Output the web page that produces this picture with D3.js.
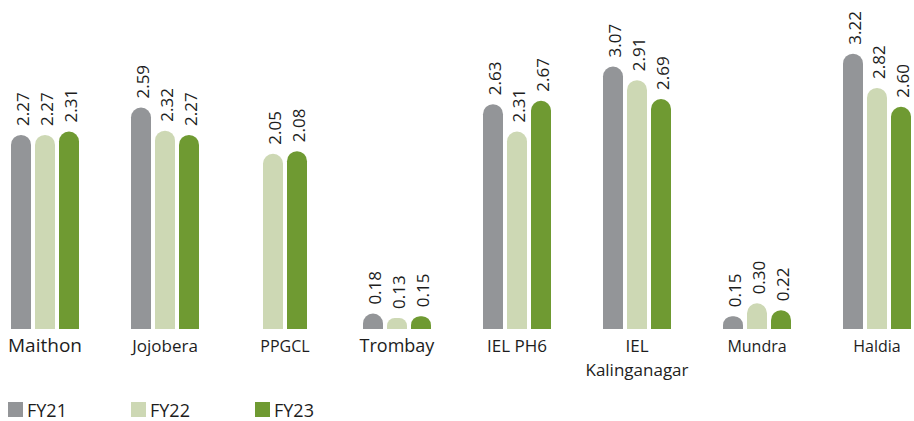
<!DOCTYPE html>
<html>
<head>
<meta charset="utf-8">
<script src="https://cdn.jsdelivr.net/npm/d3@7"></script>
<style>
  html, body { margin: 0; padding: 0; background: #fff; }
  svg { display: block; font-family: "Open Sans", "Noto Sans", sans-serif; }
</style>
</head>
<body>
<svg id="chart" width="914" height="421"></svg>
<script>
// Plant names (a "\n" splits a label over two lines)
const categories = ["Maithon", "Jojobera", "PPGCL", "Trombay", "IEL PH6", "IEL\nKalinganagar", "Mundra", "Haldia"];
// Per-year values; null where the plant has no figure
const fy21 = [2.27, 2.59, null, 0.18, 2.63, 3.07, 0.15, 3.22];
const fy22 = [2.27, 2.32, 2.05, 0.13, 2.31, 2.91, 0.30, 2.82];
const fy23 = [2.31, 2.27, 2.08, 0.15, 2.67, 2.69, 0.22, 2.60];
const seriesNames = ["FY21", "FY22", "FY23"];
const seriesColors = ["#939598", "#cdd8b4", "#6f9a32"];
const seriesValues = [fy21, fy22, fy23];
// Type size of each plant name
const labelSizes = [19, 17, 16, 18, 17, 17, 16, 16];

const svg = d3.select("#chart");
const baseY = 329;
// The first three plants sit slightly further right than the even grid
const leadShift = 8, leadCount = 3;

const x0 = d3.scaleBand()
  .domain(categories)
  .range([3, 911])
  .paddingInner(52 / 120)
  .paddingOuter(0);
const groupX = (cat, i) => x0(cat) + (i < leadCount ? leadShift : 0);

const y = d3.scaleLinear().domain([0, 3.5]).range([baseY, baseY - 3.5 * 85.5]);

function topRoundedBar(x, yTop, w, h) {
  const r = Math.min(w / 2, h * 0.7);
  return `M${x},${baseY}V${yTop + r}` +
    `A${r},${r} 0 0 1 ${x + r},${yTop}` +
    `H${x + w - r}` +
    `A${r},${r} 0 0 1 ${x + w},${yTop + r}` +
    `V${baseY}Z`;
}

categories.forEach((cat, i) => {
  const present = seriesNames.map((s, k) => ({ s, k, v: seriesValues[k][i] }))
    .filter(d => d.v != null);
  const slot = 24, gap = 4;
  const width = present.length * slot - gap;
  const gx = groupX(cat, i);
  const offset = (x0.bandwidth() - width) / 2;
  const x1 = d3.scaleBand()
    .domain(present.map(d => d.s))
    .range([gx + offset, gx + offset + width])
    .paddingInner(gap / slot)
    .paddingOuter(0);

  const g = svg.append("g");
  g.selectAll("path.bar").data(present).join("path")
    .attr("class", "bar")
    .attr("fill", d => seriesColors[d.k])
    .attr("d", d => topRoundedBar(x1(d.s), y(d.v), x1.bandwidth(), baseY - y(d.v)));

  g.selectAll("text.val").data(present).join("text")
    .attr("class", "val")
    .attr("transform", d => `translate(${x1(d.s) + x1.bandwidth() / 2 + 1},${y(d.v) - 9}) rotate(-90)`)
    .attr("text-anchor", "start")
    .attr("dominant-baseline", "central")
    .attr("font-size", 17)
    .attr("fill", "#1d1d1d")
    .text(d => d.v.toFixed(2));

  const cx = gx + x0.bandwidth() / 2;
  const t = svg.append("text")
    .attr("x", cx)
    .attr("y", 352)
    .attr("text-anchor", "middle")
    .attr("font-size", labelSizes[i])
    .attr("fill", "#1d1d1d");
  cat.split("\n").forEach((ln, j) => {
    t.append("tspan")
      .attr("x", cx)
      .attr("dy", j === 0 ? 0 : 24)
      .text(ln);
  });
});

// Legend
const legendX = [8, 131, 255];
const legend = svg.append("g");
seriesNames.forEach((s, k) => {
  legend.append("rect")
    .attr("x", legendX[k]).attr("y", 402)
    .attr("width", 15).attr("height", 15)
    .attr("fill", seriesColors[k]);
  legend.append("text")
    .attr("x", legendX[k] + 19).attr("y", 417)
    .attr("font-size", 18)
    .attr("fill", "#1d1d1d")
    .text(s);
});
</script>
</body>
</html>
